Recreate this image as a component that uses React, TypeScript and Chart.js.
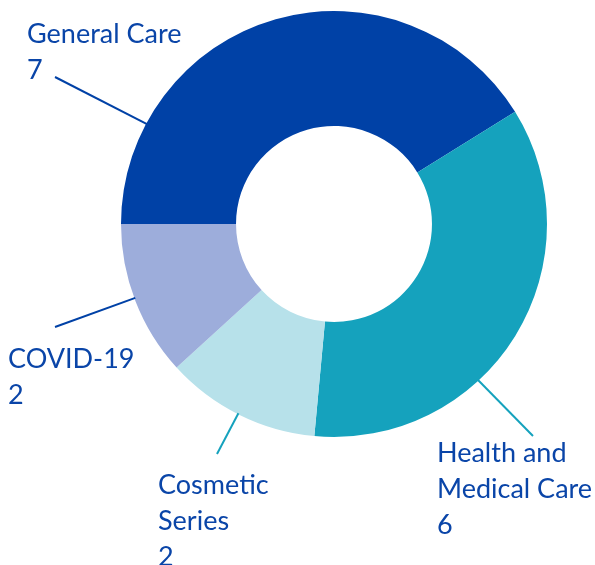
import React, { useEffect, useRef } from "react";
import { Chart, registerables } from "chart.js";

Chart.register(...registerables);

const categoryLines: string[][] = [
  ["General Care"],
  ["Health and", "Medical Care"],
  ["Cosmetic", "Series"],
  ["COVID-19"],
];
const categories = categoryLines.map((l) => l.join(" "));
const values = [7, 6, 2, 2];
const colors = ["#0041A6", "#15A2BD", "#B7E1EA", "#9DADDB"];
const lineColors = ["#0041A6", "#15A2BD", "#15A2BD", "#0041A6"];

// label placement: angle of leader start on the ring (degrees, canvas coords), leader end, text origin
const labelLayout = [
  { angle: -151.9, end: [55, 77], text: [27, 43] },
  { angle: 47.3, end: [533, 436], text: [437, 462] },
  { angle: 116.8, end: [217, 454], text: [158, 494] },
  { angle: 159.6, end: [55, 327], text: [8, 368] },
];

const labelPlugin = {
  id: "leaderLabels",
  afterDraw(chart: any) {
    const meta = chart.getDatasetMeta(0);
    const arc = meta.data[0];
    if (!arc) return;
    const { x, y, outerRadius } = arc.getProps(["x", "y", "outerRadius"], true);
    const ctx = chart.ctx;
    ctx.save();
    labelLayout.forEach((L, i) => {
      const a = (L.angle * Math.PI) / 180;
      const sx = x + Math.cos(a) * (outerRadius - 1);
      const sy = y + Math.sin(a) * (outerRadius - 1);
      ctx.beginPath();
      ctx.strokeStyle = lineColors[i];
      ctx.lineWidth = 2;
      ctx.moveTo(sx, sy);
      ctx.lineTo(L.end[0], L.end[1]);
      ctx.stroke();
      ctx.fillStyle = "#0A45A8";
      ctx.font = "27px Lato, 'Open Sans', sans-serif";
      ctx.textBaseline = "alphabetic";
      ctx.textAlign = "left";
      const lines = [...categoryLines[i], String(values[i])];
      lines.forEach((t, j) => {
        ctx.fillText(t, L.text[0], L.text[1] + j * 36);
      });
    });
    ctx.restore();
  },
};

export default function App() {
  const ref = useRef<HTMLCanvasElement | null>(null);
  useEffect(() => {
    if (!ref.current) return;
    const chart = new Chart(ref.current, {
      type: "doughnut",
      data: {
        labels: categories,
        datasets: [
          {
            data: values,
            backgroundColor: colors,
            borderWidth: 0,
            hoverOffset: 0,
          },
        ],
      },
      options: {
        animation: false,
        responsive: true,
        maintainAspectRatio: false,
        rotation: -90,
        cutout: "46%",
        layout: { padding: { left: 121, right: 48, top: 11, bottom: 128 } },
        plugins: {
          legend: { display: false },
          tooltip: { enabled: false },
        },
      },
      plugins: [labelPlugin],
    });
    return () => chart.destroy();
  }, []);
  return (
    <div style={{ position: "fixed", left: 0, top: 0, width: 595, height: 565, background: "#fff" }}>
      <canvas ref={ref} />
    </div>
  );
}
